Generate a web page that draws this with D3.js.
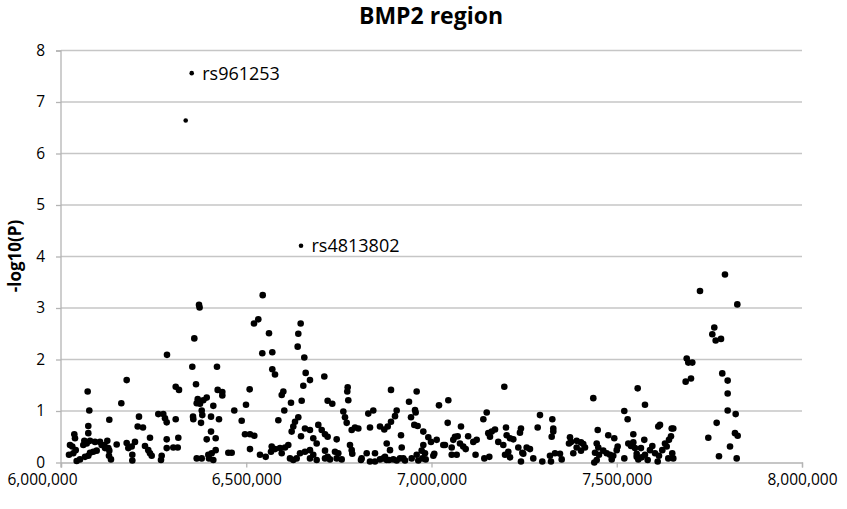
<!DOCTYPE html>
<html lang="en">
<head>
<meta charset="UTF-8">
<title>BMP2 region</title>
<style>
  body { margin: 0; background: #fff; }
  svg text { font-family: "Open Sans", sans-serif; fill: #000; }
</style>
</head>
<body>
<svg></svg>
<script src="https://d3js.org/d3.v7.min.js"></script>
<script>

// SNP position (bp) and -log10(P)
var pos = [
  6352800, 6336600, 6647800,
  6372500, 6374100, 6544400, 6520900, 6532500, 6646900, 7724700,
  6286100, 6177300, 6072000, 6162800, 6076400, 6309600, 6318500, 6130400, 6210500, 6207000,
  6221300, 6262600, 6276100, 6280700, 6285300, 6309600, 6073700, 6073700, 6035900, 6037800,
  6063000, 6078300, 6091800, 6105300, 6109800, 6125000, 6127700, 6130400, 6129500, 6134900,
  6150300, 6177300, 6181700, 6190800, 6199700, 6192500, 6192500, 6226700, 6235600, 6240200,
  6244800, 6240200, 6271700, 6269900, 6285300, 6285300, 6303100, 6315000, 6316600, 6024300,
  6030500, 6021600, 6033200, 6039700, 6042300, 6051300, 6064800, 6073700, 6078300, 6060200,
  6069400, 6087200, 6096300, 6116900, 6118800,
  6359800, 6561400, 6640500, 6638800, 6656700, 6543300, 6570300, 6354400, 6421000, 6570300,
  6577600, 6660400, 6672000, 6364400, 6422900, 6435400, 6435400, 6509200, 6600100, 6595700,
  6654000, 6369000, 6366300, 6375200, 6384100, 6393300, 6411100, 6379800, 6381400, 6356300,
  6357100, 6377900, 6404900, 6426400, 6467700, 6499300, 6487700, 6620800, 6649600, 6602700,
  6586600, 6640500, 6631600, 6627000, 6622600, 6404900, 6417500, 6393300, 6496600, 6510100,
  6521700, 6510100, 6658500, 6672000, 6680900, 6647800, 6366300, 6379800, 6397600, 6406700,
  6417500, 6399500, 6411100, 6451600, 6460700, 6537100, 6552500, 6568700, 6577600, 6591100,
  6604600, 6613500, 6566800, 6595700, 6618100, 6627000, 6636100, 6645100, 6658500, 6672000,
  6680900, 6672000,
  6710700, 6773800, 6772700, 6775400, 6719700, 6732200, 6890700, 6960000, 6939300, 7020200,
  6762000, 6766500, 6771100, 6829400, 6842900, 6906000, 6901500, 6890700, 6881800, 6872600,
  6955500, 6957300, 6944700, 6953600, 6962600, 6694500, 6703700, 6712600, 6719700, 6784600,
  6793500, 6802500, 6834000, 6861000, 6917700, 6977900, 6991400, 6998600, 7014000, 7031900,
  6744100, 6690100, 6780000, 6784600, 6786200, 6879100, 6919600, 6977900, 6973400, 6982400,
  6712600, 6719700, 6712600, 6726000, 6739500, 6748400, 6744100, 6757600, 6690100, 6811500,
  6809700, 6825100, 6834000, 6847500, 6847500, 6861000, 6869900, 6879100, 6874500, 6888000,
  6885300, 6896900, 6906000, 6915000, 6923900, 6928500, 6946500, 6960000, 6964400, 6975200,
  6984300, 7004900, 7007500,
  7196500, 7045400, 7149000, 7139900, 7043700, 7292800, 7286600, 7326100, 7328700, 7328700,
  7324400, 7079600, 7201100, 7202900, 7211900, 7220800, 7241500, 7238800, 7153300, 7162500,
  7171400, 7157900, 7098900, 7112800, 7122000, 7063400, 7070700, 7058800, 7036400, 7054500,
  7076900, 7085700, 7092300, 7180200, 7193800, 7198400, 7207300, 7211900, 7234300, 7245100,
  7256900, 7265800, 7373800, 7376500, 7371100, 7054500, 7068000, 7118900, 7142600, 7156000,
  7241500, 7247800, 7274700, 7299000, 7319800, 7322500, 7333300, 7346800, 7351400, 7382700,
  7688800, 7693100, 7703900, 7686000, 7700400, 7556500, 7436700, 7576200, 7520400, 7529400,
  7612100, 7616700, 7648300, 7652600, 7646400, 7641000, 7630200, 7448600, 7544700, 7477100,
  7493300, 7502500, 7499900, 7574300, 7565400, 7531200, 7538500, 7544700, 7549200, 7553800,
  7391800, 7403500, 7409700, 7391800, 7403500, 7414300, 7445900, 7450200, 7441300, 7452100,
  7445900, 7439400, 7463600, 7472800, 7481800, 7490600, 7486400, 7520400, 7553800, 7558100,
  7567300, 7576200, 7583500, 7589700, 7596000, 7603300, 7610500, 7614000, 7622900, 7634800,
  7639100, 7652600, 7649800,
  7792100, 7825400, 7763300, 7757900, 7767000, 7781400, 7784800, 7799400, 7799400, 7799400,
  7821000, 7769700, 7819100, 7826400, 7747100, 7805700, 7775900, 7823700
];

var logp = [
  7.56, 6.64, 4.21,
  3.06, 3.01, 3.25, 2.70, 2.78, 2.70, 3.33,
  2.09, 1.60, 1.38, 1.15, 1.01, 1.47, 1.41, 0.83, 0.89, 0.70,
  0.68, 0.94, 0.94, 0.86, 0.78, 0.84, 0.71, 0.57, 0.55, 0.47,
  0.42, 0.42, 0.40, 0.40, 0.34, 0.42, 0.28, 0.23, 0.13, 0.06,
  0.35, 0.38, 0.28, 0.31, 0.40, 0.15, 0.04, 0.32, 0.24, 0.18,
  0.13, 0.48, 0.13, 0.05, 0.45, 0.28, 0.29, 0.29, 0.48, 0.34,
  0.31, 0.15, 0.18, 0.24, 0.03, 0.06, 0.11, 0.13, 0.19, 0.34,
  0.37, 0.21, 0.23, 0.34, 0.28,
  2.41, 2.51, 2.50, 2.25, 2.04, 2.12, 2.14, 1.86, 1.86, 1.81,
  1.71, 1.74, 1.60, 1.52, 1.41, 1.37, 1.30, 1.42, 1.38, 1.31,
  1.49, 1.23, 1.15, 1.14, 1.21, 1.26, 1.10, 1.01, 0.92, 0.89,
  0.84, 0.77, 0.89, 0.84, 1.01, 1.12, 0.81, 1.16, 1.20, 1.01,
  0.82, 0.88, 0.79, 0.70, 0.60, 0.60, 0.47, 0.45, 0.55, 0.55,
  0.52, 0.26, 0.66, 0.63, 0.47, 0.51, 0.08, 0.08, 0.15, 0.18,
  0.24, 0.08, 0.05, 0.19, 0.19, 0.15, 0.11, 0.31, 0.26, 0.28,
  0.29, 0.34, 0.21, 0.18, 0.08, 0.05, 0.08, 0.18, 0.21, 0.24,
  0.15, 0.08,
  1.67, 1.46, 1.38, 1.21, 1.20, 1.14, 1.41, 1.38, 1.18, 1.11,
  0.99, 0.88, 0.77, 0.95, 1.01, 1.01, 0.90, 0.79, 0.70, 0.64,
  1.02, 0.97, 0.88, 0.73, 0.71, 0.73, 0.63, 0.55, 0.50, 0.63,
  0.68, 0.66, 0.68, 0.70, 0.53, 0.60, 0.49, 0.40, 0.44, 0.34,
  0.45, 0.37, 0.34, 0.24, 0.17, 0.37, 0.29, 0.34, 0.23, 0.18,
  0.23, 0.11, 0.08, 0.06, 0.21, 0.18, 0.08, 0.06, 0.05, 0.08,
  0.05, 0.18, 0.02, 0.02, 0.18, 0.06, 0.08, 0.05, 0.11, 0.24,
  0.05, 0.06, 0.04, 0.08, 0.08, 0.04, 0.08, 0.15, 0.04, 0.08,
  0.06, 0.13, 0.17,
  1.47, 1.21, 0.97, 0.84, 0.77, 0.92, 0.68, 0.84, 0.66, 0.60,
  0.50, 0.70, 0.68, 0.53, 0.47, 0.45, 0.66, 0.58, 0.57, 0.60,
  0.64, 0.50, 0.51, 0.40, 0.44, 0.50, 0.51, 0.44, 0.34, 0.29,
  0.37, 0.31, 0.26, 0.40, 0.34, 0.15, 0.21, 0.10, 0.29, 0.19,
  0.29, 0.26, 0.49, 0.40, 0.37, 0.15, 0.15, 0.15, 0.08, 0.11,
  0.02, 0.17, 0.08, 0.02, 0.13, 0.02, 0.18, 0.17, 0.06, 0.18,
  2.02, 1.94, 1.94, 1.57, 1.63, 1.44, 1.25, 1.12, 1.00, 0.84,
  0.70, 0.73, 0.66, 0.66, 0.51, 0.44, 0.37, 0.63, 0.55, 0.53,
  0.47, 0.31, 0.24, 0.44, 0.28, 0.37, 0.32, 0.39, 0.28, 0.17,
  0.42, 0.39, 0.36, 0.29, 0.23, 0.29, 0.37, 0.29, 0.19, 0.15,
  0.05, 0.00, 0.23, 0.18, 0.15, 0.13, 0.06, 0.08, 0.11, 0.06,
  0.10, 0.15, 0.05, 0.24, 0.32, 0.18, 0.02, 0.13, 0.24, 0.31,
  0.08, 0.08, 0.18,
  3.65, 3.07, 2.62, 2.49, 2.37, 2.40, 1.73, 1.59, 1.34, 1.01,
  0.94, 0.77, 0.57, 0.52, 0.48, 0.31, 0.12, 0.08
];

// highlighted SNPs (first three entries are drawn with the small marker)
var snpNames = ["rs961253", "", "rs4813802"];

var xTicks = [6000000, 6500000, 7000000, 7500000, 8000000];
var yTicks = [0, 1, 2, 3, 4, 5, 6, 7, 8];

var data = pos.map(function(p, i) {
  return { pos: p, p: logp[i], name: snpNames[i] || "", small: i < 3 };
});

var svgWidth = 847, svgHeight = 509;
var margin = { top: 50.5, right: 45, bottom: 46.5, left: 61 };
var width = svgWidth - margin.left - margin.right;
var height = svgHeight - margin.top - margin.bottom;

var svg = d3.select("svg")
  .attr("width", svgWidth)
  .attr("height", svgHeight);

var g = svg.append("g")
  .attr("transform", "translate(" + margin.left + "," + margin.top + ")");

var x = d3.scaleLinear().domain([6000000, 8000000]).range([0, width]);
var y = d3.scaleLinear().domain([0, 8]).range([height, 0]);

// gridlines
g.append("g")
  .selectAll("line")
  .data(yTicks.slice(1))
  .enter().append("line")
  .attr("x1", 0).attr("x2", width)
  .attr("y1", function(d) { return y(d); })
  .attr("y2", function(d) { return y(d); })
  .attr("stroke", "#c6c6c6")
  .attr("stroke-width", 1.3);

var yAxis = g.append("g")
  .call(d3.axisLeft(y).tickValues(yTicks).tickSize(5).tickPadding(11));
yAxis.selectAll("text").style("font-size", "15.5px");

var xAxis = g.append("g")
  .attr("transform", "translate(0," + height + ")")
  .call(d3.axisBottom(x).tickValues(xTicks).tickFormat(d3.format(",")).tickSize(5).tickPadding(6));
xAxis.selectAll("text").style("font-size", "15.5px");
// Excel nudges the first label so it stays inside the chart
xAxis.selectAll(".tick").filter(function(d) { return d === 6000000; })
  .select("text").attr("dx", "-19");

g.selectAll(".domain").attr("stroke", "#b4b4b4").attr("stroke-width", 1.3);
g.selectAll(".tick line").attr("stroke", "#b4b4b4").attr("stroke-width", 1.3);
yAxis.select(".domain").attr("d", "M-5,0.5H0V" + (height + 5));

g.append("g")
  .selectAll("circle")
  .data(data)
  .enter().append("circle")
  .attr("cx", function(d) { return x(d.pos); })
  .attr("cy", function(d) { return y(d.p); })
  .attr("r", function(d) { return d.small ? 2.3 : 3.3; })
  .attr("fill", "#000");

g.append("g")
  .selectAll("text")
  .data(data.filter(function(d) { return d.name; }))
  .enter().append("text")
  .attr("x", function(d) { return x(d.pos) + 10.5; })
  .attr("y", function(d) { return y(d.p); })
  .attr("dy", "0.36em")
  .style("font-size", "18px")
  .text(function(d) { return d.name; });

svg.append("text")
  .attr("x", 431)
  .attr("y", 24)
  .style("text-anchor", "middle")
  .style("font-size", "23px")
  .style("font-weight", "bold")
  .text("BMP2 region");

svg.append("text")
  .attr("transform", "rotate(-90)")
  .attr("x", -256)
  .attr("y", 21)
  .style("text-anchor", "middle")
  .style("font-size", "17px")
  .style("font-weight", "bold")
  .text("-log10(P)");

</script>
</body>
</html>
